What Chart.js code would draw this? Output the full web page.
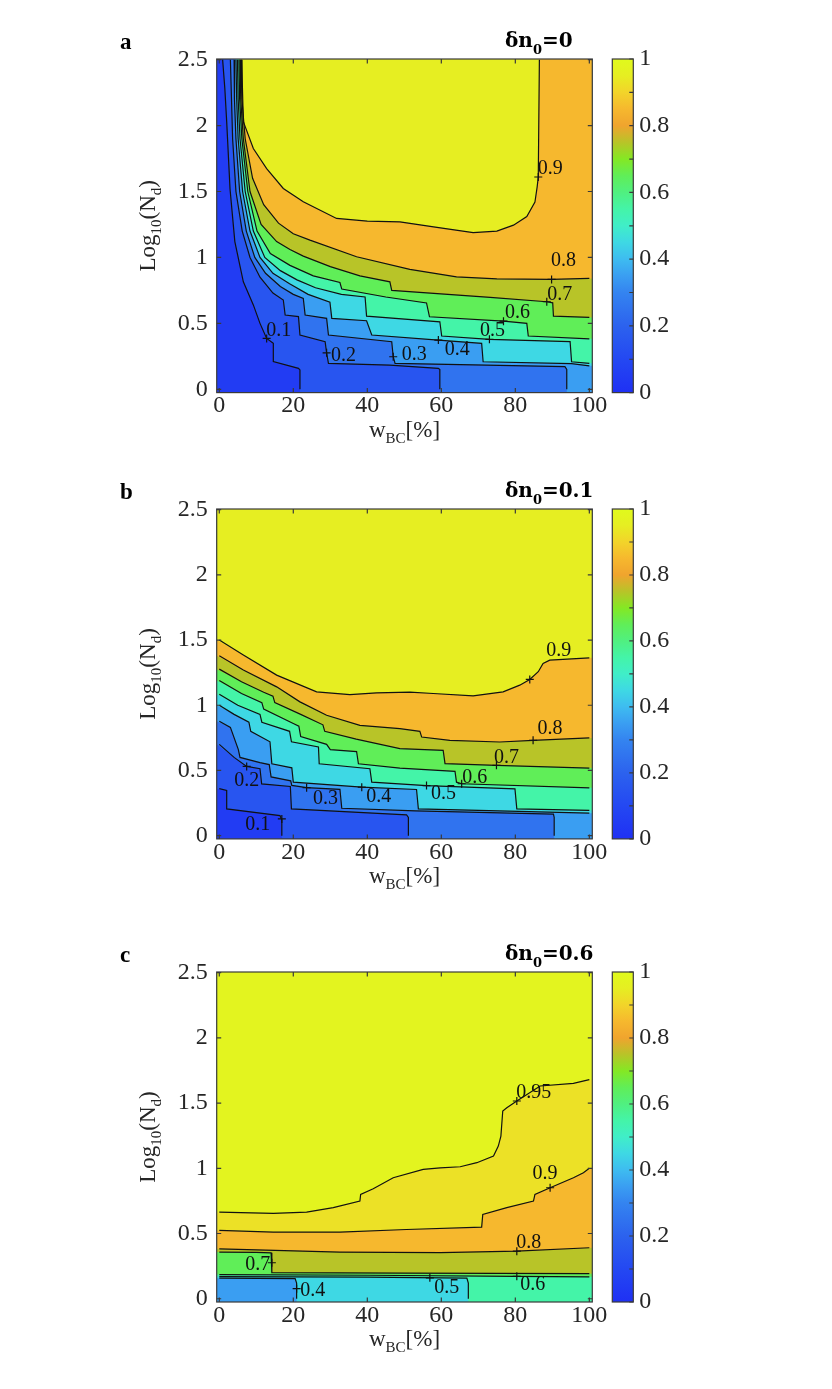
<!DOCTYPE html>
<html>
<head>
<meta charset="utf-8">
<script src="https://cdn.jsdelivr.net/npm/chart.js@4.4.1/dist/chart.umd.min.js"></script>
<style>
  html, body { margin: 0; padding: 0; background: #fff; }
  #page { position: relative; width: 832px; height: 1389px; overflow: hidden; }
  canvas { position: absolute; left: 0; }
</style>
</head>
<body>
<div id="page">
  <canvas id="pa"></canvas>
  <canvas id="pb"></canvas>
  <canvas id="pc"></canvas>
</div>
<script>
// tick values
const xTicks = [0, 20, 40, 60, 80, 100];
const yTicks = [0, 0.5, 1, 1.5, 2, 2.5];
const cbTicks = [0, 0.1, 0.2, 0.3, 0.4, 0.5, 0.6, 0.7, 0.8, 0.9, 1];

// ---- panel a : dn0 = 0 ----  contour paths [wBC %, log10 Nd]
const levelsA = [0.1, 0.2, 0.3, 0.4, 0.5, 0.6, 0.7, 0.8, 0.9];
const a01 = [[0.9,2.5],[1.5,2.28],[2.0,2.03],[2.9,1.52],[4.2,1.12],[6.5,0.815],[9.2,0.64],[11.0,0.5],[12.8,0.386],[14.6,0.349],[14.6,0.21],[21.4,0.159],[21.8,0.147],[21.8,0]];
const a02 = [[3.0,2.5],[3.3,2.2],[3.6,1.9],[4.5,1.5],[6.2,1.2],[8.3,1.0],[11,0.85],[14.5,0.73],[17.3,0.677],[17.8,0.563],[21.4,0.551],[21.8,0.412],[28.6,0.361],[29,0.277],[29.5,0.197],[46.1,0.184],[59.2,0.159],[59.6,0.15],[59.6,0]];
const a03 = [[4.0,2.5],[4.1,2.2],[4.5,1.9],[5.5,1.5],[7.3,1.2],[9.6,1.0],[12.5,0.88],[16.5,0.78],[20,0.72],[22.7,0.69],[23.2,0.563],[29,0.538],[29.5,0.412],[46.6,0.361],[47,0.247],[47.5,0.197],[93.4,0.172],[93.9,0.15],[93.9,0]];
const a04 = [[4.5,2.5],[4.7,2.2],[5.1,1.9],[6.3,1.5],[8.3,1.2],[11,1.0],[14.5,0.88],[19,0.8],[24,0.72],[29.9,0.66],[30.4,0.538],[39.8,0.52],[41.2,0.412],[59.2,0.373],[70.9,0.348],[71.3,0.209],[95.2,0.195],[100,0.177]];
const a05 = [[4.9,2.5],[5.1,2.2],[5.6,1.9],[7.0,1.5],[9.2,1.2],[12.3,1.0],[16.5,0.9],[21,0.83],[26,0.77],[33,0.72],[39.4,0.7],[39.8,0.555],[59.6,0.512],[60.1,0.404],[73.0,0.379],[94.8,0.361],[95.2,0.209],[100,0.197]];
const a06 = [[5.3,2.5],[5.5,2.2],[6.1,1.9],[7.7,1.5],[10.2,1.2],[13.8,1.03],[19.1,0.94],[25.4,0.86],[32.6,0.81],[33.1,0.76],[45,0.7],[56.0,0.655],[56.8,0.55],[76.8,0.517],[83.1,0.5],[83.5,0.404],[100,0.383]];
const a07 = [[5.6,2.5],[5.8,2.2],[6.5,1.9],[8.3,1.5],[11.3,1.25],[15.5,1.12],[19.1,1.06],[22.7,1.01],[30,0.93],[38,0.86],[46.1,0.815],[46.6,0.75],[73.2,0.697],[88.5,0.664],[90.1,0.656],[90.3,0.555],[100,0.545]];
const a08 = [[5.9,2.5],[6.1,2.2],[7.0,1.9],[9.0,1.6],[12,1.4],[16,1.26],[20,1.18],[24.5,1.131],[37.1,1.005],[51.5,0.91],[64.1,0.853],[75,0.838],[89.8,0.833],[100,0.841]];
const a09 = [[6.05,2.5],[6.5,2.03],[9.2,1.826],[12.8,1.674],[17.3,1.523],[22.7,1.422],[31.7,1.296],[40,1.275],[48.8,1.27],[57.9,1.232],[68.6,1.189],[75,1.2],[79.5,1.245],[83.1,1.31],[85.3,1.42],[85.9,1.535],[86.2,1.61],[86.5,2.5]];
const labelsA = [[0.1,12.8,0.386],[0.2,29.0,0.277],[0.3,47.0,0.247],[0.4,59.2,0.373],[0.5,73.0,0.379],[0.6,76.8,0.517],[0.7,88.5,0.664],[0.8,89.8,0.833],[0.9,86.2,1.61]];

// ---- panel b : dn0 = 0.1 ----
const levelsB = [0.1, 0.2, 0.3, 0.4, 0.5, 0.6, 0.7, 0.8, 0.9];
const b01 = [[0,0.36],[2,0.346],[2,0.205],[16.4,0.154],[16.9,0.12],[16.9,0]];
const b02 = [[0,0.70],[4,0.6],[7.4,0.531],[11,0.513],[11.45,0.397],[19.2,0.377],[19.5,0.205],[50.6,0.16],[51.1,0.14],[51.1,0]];
const b03 = [[0,0.877],[3,0.83],[5.15,0.66],[5.6,0.6],[11,0.56],[13.5,0.545],[14,0.45],[19.3,0.42],[19.6,0.385],[23.6,0.368],[32.6,0.355],[33.1,0.21],[53,0.19],[90.3,0.165],[90.5,0.14],[90.5,0]];
const b04 = [[0,1.0],[4,0.93],[8,0.87],[8.5,0.8],[13.7,0.72],[14.2,0.551],[19.6,0.52],[20,0.41],[38.5,0.372],[53.3,0.354],[53.8,0.205],[100,0.172]];
const b05 = [[0,1.085],[5,1.0],[11,0.93],[11.5,0.87],[19,0.8],[19.5,0.72],[26.8,0.68],[27,0.551],[40.7,0.513],[41.2,0.41],[56,0.384],[79.9,0.359],[80.4,0.205],[100,0.193]];
const b06 = [[0,1.19],[6,1.09],[11.5,1.02],[12,0.97],[20,0.86],[21.5,0.84],[22,0.76],[29,0.7],[30,0.66],[37.1,0.645],[37.6,0.551],[48.8,0.518],[63.7,0.493],[64.1,0.41],[65.5,0.398],[100,0.367]];
const b07 = [[0,1.277],[6,1.18],[12,1.1],[14.5,1.07],[15,1.02],[22,0.93],[28,0.85],[28.5,0.8],[37,0.74],[48.8,0.667],[60.5,0.654],[61,0.552],[74.9,0.539],[100,0.518]];
const b08 = [[0,1.38],[6.5,1.27],[15.5,1.141],[21.8,1.026],[29,0.923],[38,0.846],[48.8,0.821],[54.2,0.8],[54.7,0.756],[62.3,0.731],[75.8,0.718],[84.8,0.731],[100,0.749]];
const b09 = [[0,1.5],[6.5,1.385],[15.5,1.231],[26.3,1.103],[35.3,1.082],[42.5,1.095],[51.5,1.1],[57.8,1.09],[68.6,1.072],[76.7,1.103],[81.2,1.154],[83.9,1.198],[86.2,1.257],[87.5,1.321],[89.3,1.346],[100,1.364]];
const labelsB = [[0.1,16.9,0.128],[0.2,7.4,0.531],[0.3,23.6,0.368],[0.4,38.5,0.372],[0.5,56,0.384],[0.6,65.5,0.398],[0.7,74.9,0.539],[0.8,84.8,0.731],[0.9,83.9,1.198]];

// ---- panel c : dn0 = 0.6 ----
const levelsC = [0.4, 0.5, 0.6, 0.7, 0.8, 0.9, 0.95];
const c04 = [[0,0.158],[20.5,0.154],[20.9,0.12],[20.9,0]];
const c05 = [[0,0.17],[40,0.165],[66.9,0.158],[67.3,0.12],[67.3,0]];
const c06 = [[0,0.185],[40,0.18],[80,0.172],[100,0.168]];
const c07 = [[0,0.358],[10,0.356],[14.0,0.352],[14.2,0.2],[50,0.197],[100,0.192]];
const c08 = [[0,0.383],[32.6,0.358],[59.7,0.353],[80.4,0.365],[100,0.391]];
const c09 = [[0,0.524],[14.6,0.511],[32.6,0.511],[50.6,0.531],[70.9,0.549],[71.2,0.646],[77.7,0.698],[84.9,0.749],[85.3,0.8],[89.4,0.851],[95.7,0.928],[98.4,0.966],[100,1.0]];
const c095 = [[0,0.664],[14.6,0.654],[23.6,0.664],[30.8,0.698],[38.0,0.749],[38.2,0.8],[41.6,0.843],[47.0,0.928],[55.1,0.992],[59.7,1.004],[65.1,1.012],[69.6,1.043],[74.1,1.094],[75.4,1.17],[76.1,1.247],[76.6,1.439],[77.7,1.464],[80.4,1.516],[86.7,1.631],[95.7,1.651],[100,1.68]];
const labelsC = [[0.4,20.9,0.077],[0.5,56.9,0.16],[0.6,80.4,0.172],[0.7,14.2,0.276],[0.8,80.4,0.365],[0.9,89.4,0.851],[0.95,80.4,1.516]];

// label text offsets from the "+" marker, px
const offsetsA = [[12,-8],[17,3],[21,-2],[19,10],[3,-9],[14,-8],[13,-7],[12,-19],[12,-8]];
const offsetsB = [[-24,6],[0,14],[19,11],[17,10],[17,8],[13,-6],[10,-8],[17,-12],[29,-29]];
const offsetsC = [[16,2],[17,10],[16,8],[-14,2],[12,-8],[-5,-14],[17,-8]];

// colour map
const cmapStops = [
  [0.00, [31, 48, 244]], [0.10, [36, 72, 242]], [0.20, [44, 98, 238]], [0.30, [52, 132, 240]],
  [0.35, [58, 158, 242]], [0.40, [62, 188, 240]], [0.45, [62, 216, 228]], [0.50, [64, 238, 200]],
  [0.55, [68, 244, 168]], [0.60, [80, 240, 128]], [0.65, [96, 238, 88]], [0.70, [132, 232, 36]],
  [0.75, [184, 196, 40]], [0.80, [240, 164, 46]], [0.85, [246, 184, 46]], [0.90, [242, 212, 42]],
  [0.95, [230, 238, 34]], [1.00, [224, 250, 28]]
];

function cmap(v) {
  v = Math.max(0, Math.min(1, v));
  for (let i = 1; i < cmapStops.length; i++) {
    const [v1, c1] = cmapStops[i];
    if (v <= v1) {
      const [v0, c0] = cmapStops[i - 1];
      const t = (v - v0) / (v1 - v0);
      const c = c0.map((a, k) => Math.round(a + (c1[k] - a) * t));
      return `rgb(${c[0]},${c[1]},${c[2]})`;
    }
  }
  return 'rgb(224,250,28)';
}

const SERIF = '"Liberation Serif", "Times New Roman", serif';
const INK = '#262626';

const panels = [
  { canvas: 'pa', letter: 'a', dn: '0',   levels: levelsA, contours: [a01,a02,a03,a04,a05,a06,a07,a08,a09], labels: labelsA, offsets: offsetsA, top: 58.7,  height: 333.6 },
  { canvas: 'pb', letter: 'b', dn: '0.1', levels: levelsB, contours: [b01,b02,b03,b04,b05,b06,b07,b08,b09], labels: labelsB, offsets: offsetsB, top: 509.4, height: 329.9 },
  { canvas: 'pc', letter: 'c', dn: '0.6', levels: levelsC, contours: [c04,c05,c06,c07,c08,c09,c095], labels: labelsC, offsets: offsetsC, top: 971.7, height: 330 }
];

function richText(ctx, parts, x, y, align) {
  let w = 0;
  for (const p of parts) { ctx.font = p.f; w += ctx.measureText(p.t).width; }
  let cx = align === 'center' ? x - w / 2 : align === 'right' ? x - w : x;
  ctx.textAlign = 'left';
  ctx.textBaseline = 'alphabetic';
  for (const p of parts) {
    ctx.font = p.f;
    ctx.fillText(p.t, cx, y + (p.dy || 0));
    cx += ctx.measureText(p.t).width;
  }
}

// polygon of the region above one contour: the path plus the frame walked counter-clockwise
function regionPath(ctx, xs, ys, pts) {
  const x0 = xs.min, x1 = xs.max, y0 = ys.min, y1 = ys.max;
  const snap = ([x, y]) => {
    if (x <= 0) x = x0; else if (x >= 100) x = x1;
    if (y <= 0) y = y0; else if (y >= 2.5) y = y1;
    return [x, y];
  };
  const per = ([x, y]) => {
    if (y <= y0 + 1e-9) return (x - x0) / (x1 - x0);
    if (x >= x1 - 1e-9) return 1 + (y - y0) / (y1 - y0);
    if (y >= y1 - 1e-9) return 2 + (x1 - x) / (x1 - x0);
    return 3 + (y1 - y) / (y1 - y0);
  };
  const corners = [[x0, y0], [x1, y0], [x1, y1], [x0, y1]];
  const first = snap(pts[0]), last = snap(pts[pts.length - 1]);
  const px = v => xs.getPixelForValue(v), py = v => ys.getPixelForValue(v);
  ctx.beginPath();
  ctx.moveTo(px(first[0]), py(first[1]));
  for (let i = 1; i < pts.length - 1; i++) ctx.lineTo(px(pts[i][0]), py(pts[i][1]));
  ctx.lineTo(px(last[0]), py(last[1]));
  const tE = per(last);
  let tS = per(first);
  if (tS < tE) tS += 4;
  for (let c = 1; c < 8; c++) {
    if (c > tE && c < tS) {
      const k = corners[c % 4];
      ctx.lineTo(px(k[0]), py(k[1]));
    }
  }
  ctx.closePath();
}

function makePlugin(p) {
  return {
    id: 'panel' + p.letter,
    beforeDatasetsDraw(chart) {
      const { ctx, chartArea: ca, scales: { x, y } } = chart;
      ctx.save();
      ctx.beginPath();
      ctx.rect(ca.left, ca.top, ca.right - ca.left, ca.bottom - ca.top);
      ctx.clip();
      ctx.fillStyle = cmap(p.levels[0] - 0.05);
      ctx.fillRect(ca.left, ca.top, ca.right - ca.left, ca.bottom - ca.top);
      p.contours.forEach((c, i) => {
        const lo = p.levels[i];
        const hi = i + 1 < p.levels.length ? p.levels[i + 1] : 1;
        ctx.fillStyle = cmap((lo + hi) / 2);
        regionPath(ctx, x, y, c);
        ctx.fill();
      });
      ctx.restore();
    },
    afterDatasetsDraw(chart) {
      const { ctx, chartArea: ca, scales: { x, y, cb } } = chart;
      ctx.save();
      // contour labels
      ctx.strokeStyle = '#111';
      ctx.lineWidth = 1.2;
      ctx.fillStyle = '#111';
      p.labels.forEach(([lv, lx, ly], i) => {
        const X = x.getPixelForValue(lx), Y = y.getPixelForValue(ly);
        ctx.beginPath();
        ctx.moveTo(X - 4, Y); ctx.lineTo(X + 4, Y);
        ctx.moveTo(X, Y - 4); ctx.lineTo(X, Y + 4);
        ctx.stroke();
        const [dx, dy] = p.offsets[i];
        ctx.font = '20px ' + SERIF;
        ctx.textAlign = 'center';
        ctx.textBaseline = 'middle';
        ctx.fillText(String(lv), X + dx, Y + dy);
      });
      // frame and inward ticks
      ctx.strokeStyle = '#3a3a3a';
      ctx.lineWidth = 1.2;
      ctx.strokeRect(ca.left, ca.top, ca.right - ca.left, ca.bottom - ca.top);
      ctx.beginPath();
      const tl = 4.5;
      xTicks.forEach(v => {
        const X = x.getPixelForValue(v);
        ctx.moveTo(X, ca.bottom); ctx.lineTo(X, ca.bottom - tl);
        ctx.moveTo(X, ca.top); ctx.lineTo(X, ca.top + tl);
      });
      yTicks.forEach(v => {
        const Y = y.getPixelForValue(v);
        ctx.moveTo(ca.left, Y); ctx.lineTo(ca.left + tl, Y);
        ctx.moveTo(ca.right, Y); ctx.lineTo(ca.right - tl, Y);
      });
      ctx.stroke();
      // colour bar
      const L = ca.right + 20, W = 21;
      const top = cb.getPixelForValue(1), bot = cb.getPixelForValue(0);
      const g = ctx.createLinearGradient(0, bot, 0, top);
      cmapStops.forEach(([v]) => g.addColorStop(v, cmap(v)));
      ctx.fillStyle = g;
      ctx.fillRect(L, top, W, bot - top);
      ctx.strokeRect(L, top, W, bot - top);
      ctx.beginPath();
      cbTicks.forEach(v => {
        const Y = cb.getPixelForValue(v);
        ctx.moveTo(L + W, Y); ctx.lineTo(L + W - 4, Y);
      });
      ctx.stroke();
      // letter and title
      ctx.fillStyle = '#000';
      ctx.font = 'bold 23px ' + SERIF;
      ctx.textAlign = 'left';
      ctx.textBaseline = 'alphabetic';
      ctx.fillText(p.letter, 120, ca.top - 10);
      const tf = 'bold 20px "DejaVu Serif", serif', ts = 'bold 13px "DejaVu Serif", serif';
      richText(ctx, [{ t: 'δn', f: tf }, { t: '0', f: ts, dy: 7 }, { t: '=' + p.dn, f: tf }], 505, ca.top - 12, 'left');
      // axis titles
      ctx.fillStyle = INK;
      const mf = '23px ' + SERIF, sf = '15px ' + SERIF;
      richText(ctx, [{ t: 'w', f: mf }, { t: 'BC', f: sf, dy: 6 }, { t: '[%]', f: mf }], (ca.left + ca.right) / 2, ca.bottom + 44, 'center');
      ctx.translate(155, (ca.top + ca.bottom) / 2);
      ctx.rotate(-Math.PI / 2);
      richText(ctx, [{ t: 'Log', f: mf }, { t: '10', f: sf, dy: 6 }, { t: '(N', f: mf }, { t: 'd', f: sf, dy: 6 }, { t: ')', f: mf }], 0, 0, 'center');
      ctx.restore();
    }
  };
}

Chart.defaults.font.family = SERIF;
Chart.defaults.color = INK;

const PAD_TOP = 60, PAD_SIDE = 150;

panels.forEach(p => {
  const el = document.getElementById(p.canvas);
  const H = Math.ceil(p.height + PAD_TOP + 80);
  el.width = 832;
  el.height = H;
  el.style.top = (p.top - PAD_TOP) + 'px';
  const xAxisH = H - PAD_TOP - p.height;
  const tickFont = { family: SERIF, size: 24 };

  new Chart(el, {
    type: 'scatter',
    data: {
      datasets: p.contours.map(c => ({
        data: c.map(([x, y]) => ({ x, y })),
        showLine: true,
        borderColor: '#111',
        borderWidth: 1.2,
        pointRadius: 0,
        fill: false,
        tension: 0
      }))
    },
    options: {
      responsive: false,
      animation: false,
      events: [],
      layout: { padding: { top: PAD_TOP, left: PAD_SIDE, right: PAD_SIDE, bottom: 0 } },
      plugins: { legend: { display: false }, tooltip: { enabled: false } },
      scales: {
        x: {
          type: 'linear', position: 'bottom', min: -0.7, max: 100.8,
          grid: { display: false }, border: { display: false },
          ticks: { font: tickFont, color: INK, padding: -9, autoSkip: false, maxRotation: 0, callback: v => String(v) },
          afterBuildTicks: s => { s.ticks = xTicks.map(v => ({ value: v })); },
          afterFit: s => { s.height = xAxisH; }
        },
        y: {
          type: 'linear', position: 'left', min: -0.025, max: 2.505,
          grid: { display: false }, border: { display: false },
          ticks: { font: tickFont, color: INK, padding: 1, autoSkip: false, callback: v => String(v) },
          afterBuildTicks: s => { s.ticks = yTicks.map(v => ({ value: v })); },
          afterFit: s => { s.width = 216.7 - PAD_SIDE; }
        },
        cb: {
          type: 'linear', axis: 'y', position: 'right', min: 0, max: 1,
          grid: { display: false }, border: { display: false },
          ticks: {
            font: tickFont, color: INK, padding: 39, autoSkip: false,
            callback: v => (Math.round(v * 10) % 2 === 0 ? String(Math.round(v * 10) / 10) : '')
          },
          afterBuildTicks: s => { s.ticks = cbTicks.map(v => ({ value: v })); },
          afterFit: s => { s.width = 832 - PAD_SIDE - 592.3; }
        }
      }
    },
    plugins: [makePlugin(p)]
  });
});
</script>
</body>
</html>
